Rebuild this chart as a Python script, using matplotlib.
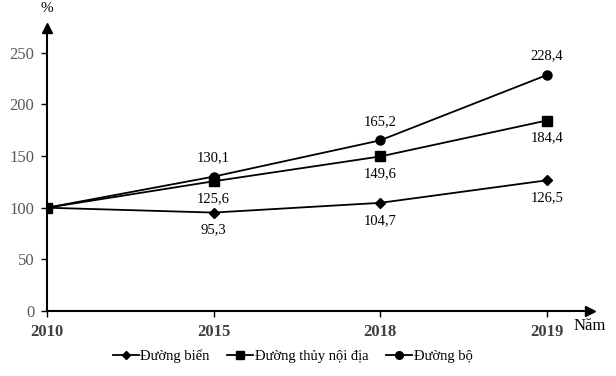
import matplotlib.pyplot as plt

years = ['2010', '2015', '2018', '2019']
duong_bien = [100, 95.3, 104.7, 126.5]
duong_thuy = [100, 125.6, 149.6, 184.4]
duong_bo = [100, 130.1, 165.2, 228.4]

plt.rcParams['font.family'] = ['Liberation Serif', 'DejaVu Serif']

fig = plt.figure(figsize=(6.16, 3.76), dpi=100)
ax = fig.add_axes([47 / 616, 1 - 311 / 376, 543 / 616, 283 / 376])

x = list(range(len(years)))
ax.plot(x, duong_bien, color='black', lw=1.3, marker='D', ms=5, label='Đường biển')
ax.plot(x, duong_thuy, color='black', lw=1.3, marker='s', ms=6.5, label='Đường thủy nội địa')
ax.plot(x, duong_bo, color='black', lw=1.3, marker='o', ms=6.5, label='Đường bộ')


def fmt(v):
    return f'{v:.1f}'.replace('.', ',')


# nhãn số liệu
for i in range(1, len(years)):
    ax.annotate(fmt(duong_bo[i]), (x[i], duong_bo[i]), xytext=(0, 9), textcoords='offset points',
                ha='center', va='bottom', fontsize=10.5)
    ax.annotate(fmt(duong_thuy[i]), (x[i], duong_thuy[i]), xytext=(0, -8), textcoords='offset points',
                ha='center', va='top', fontsize=10.5)
    ax.annotate(fmt(duong_bien[i]), (x[i], duong_bien[i]), xytext=(0, -8), textcoords='offset points',
                ha='center', va='top', fontsize=10.5)

ax.set_xlim(0, 3.26)
ax.set_ylim(0, 274)
ax.set_yticks(range(0, 251, 50))
ax.set_xticks(x)
ax.set_xticklabels(years, fontweight='bold', color='#404040', fontsize=12)
ax.tick_params(axis='y', colors='black', labelcolor='#595959', labelsize=12, length=4, width=1, pad=5)
ax.tick_params(axis='x', length=4, width=1, pad=5)
for s in ['top', 'right']:
    ax.spines[s].set_visible(False)
ax.spines['left'].set_linewidth(1.5)
ax.spines['bottom'].set_linewidth(1.5)

# mũi tên trục
ax.plot(0, 1, '^', color='black', ms=7, transform=ax.transAxes, clip_on=False)
ax.plot(1, 0, '>', color='black', ms=7, transform=ax.transAxes, clip_on=False)
ax.text(0, 1.045, '%', transform=ax.transAxes, ha='center', va='bottom', fontsize=11)
ax.text(1.0, -0.025, 'Năm', transform=ax.transAxes, ha='center', va='top', fontsize=12)

fig.legend(loc='lower center', bbox_to_anchor=(0.475, 0.0), ncol=3, frameon=False, fontsize=10.5,
           handlelength=1.8, handletextpad=0.1, columnspacing=1.2, markerscale=0.85)

fig.savefig('out.png', dpi=100)
